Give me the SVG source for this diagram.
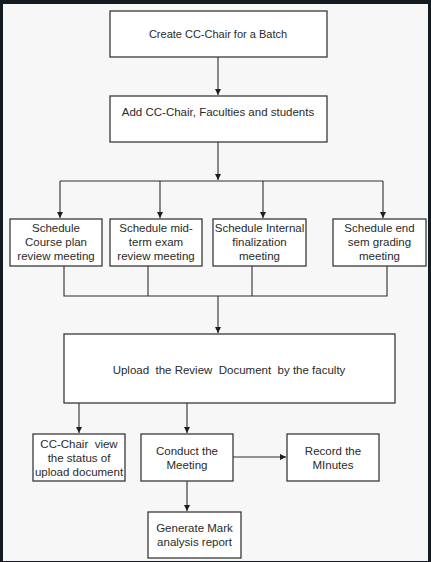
<svg xmlns="http://www.w3.org/2000/svg" width="431" height="562" viewBox="0 0 431 562">
<style>
.box{fill:#ffffff;stroke:#3a3a3a;stroke-width:1.3}
.t{font-family:"Liberation Sans",Arial,sans-serif;font-size:11.5px;fill:#2a2a2a;text-anchor:middle;white-space:pre}
.s{font-size:11px}
.c{fill:none;stroke:#2e2e2e;stroke-width:1.1}
</style>
<defs>
<marker id="ah" viewBox="0 0 8 8" refX="8" refY="4" markerWidth="6" markerHeight="6" markerUnits="userSpaceOnUse" orient="auto">
<path d="M0,0 L8,4 L0,8 z" fill="#1e1e1e"/>
</marker>
</defs>
<rect x="0" y="0" width="431" height="562" fill="#151a21"/>
<rect x="3" y="4" width="425" height="557" fill="#f7f7f7"/>
<g id="connectors">
<path class="c" d="M218,57 V95" marker-end="url(#ah)"/>
<path class="c" d="M218,142 V180" marker-end="url(#ah)"/>
<path class="c" d="M60,181 H383"/>
<path class="c" d="M60,181 V218" marker-end="url(#ah)"/>
<path class="c" d="M160,181 V218" marker-end="url(#ah)"/>
<path class="c" d="M263,181 V218" marker-end="url(#ah)"/>
<path class="c" d="M383,181 V218" marker-end="url(#ah)"/>
<path class="c" d="M64,266 V296 H387 V266"/>
<path class="c" d="M148,266 V296"/>
<path class="c" d="M252,266 V296"/>
<path class="c" d="M218,296 V333" marker-end="url(#ah)"/>
<path class="c" d="M79,403 V433" marker-end="url(#ah)"/>
<path class="c" d="M187,403 V433" marker-end="url(#ah)"/>
<path class="c" d="M233,457 H286" marker-end="url(#ah)"/>
<path class="c" d="M187,481 V511" marker-end="url(#ah)"/>
</g>
<g id="n1"><rect class="box" x="110" y="11" width="217" height="46"/><text class="t s" x="218" y="38">Create CC-Chair for a Batch</text></g>
<g id="n2"><rect class="box" x="110" y="96" width="217" height="46"/><text class="t" x="218" y="116">Add CC-Chair, Faculties and students</text></g>
<g id="n3"><rect class="box" x="10" y="219" width="92" height="47"/><text class="t" x="56" y="232">Schedule</text><text class="t" x="56" y="246">Course plan</text><text class="t" x="56" y="260">review meeting</text></g>
<g id="n4"><rect class="box" x="110" y="219" width="92" height="47"/><text class="t" x="156" y="232">Schedule mid-</text><text class="t" x="156" y="246">term exam</text><text class="t" x="156" y="260">review meeting</text></g>
<g id="n5"><rect class="box" x="213" y="219" width="93" height="47"/><text class="t" x="259.5" y="232">Schedule Internal</text><text class="t" x="259.5" y="246">finalization</text><text class="t" x="259.5" y="260">meeting</text></g>
<g id="n6"><rect class="box" x="333" y="219" width="93" height="47"/><text class="t" x="379.5" y="232">Schedule end</text><text class="t" x="379.5" y="246">sem grading</text><text class="t" x="379.5" y="260">meeting</text></g>
<g id="n7"><rect class="box" x="64" y="334" width="331" height="69"/><text class="t" x="229" y="374">Upload  the Review  Document  by the faculty</text></g>
<g id="n8"><rect class="box" x="33" y="434" width="92" height="47"/><text class="t" x="79" y="448">CC-Chair  view</text><text class="t" x="79" y="462">the status of</text><text class="t" x="79" y="476">upload document</text></g>
<g id="n9"><rect class="box" x="141" y="434" width="92" height="47"/><text class="t" x="187" y="455">Conduct the</text><text class="t" x="187" y="469">Meeting</text></g>
<g id="n10"><rect class="box" x="287" y="434" width="92" height="47"/><text class="t" x="333" y="455">Record the</text><text class="t" x="333" y="469">MInutes</text></g>
<g id="n11"><rect class="box" x="148" y="512" width="93" height="46"/><text class="t" x="194.5" y="532">Generate Mark</text><text class="t" x="194.5" y="546">analysis report</text></g>
</svg>
